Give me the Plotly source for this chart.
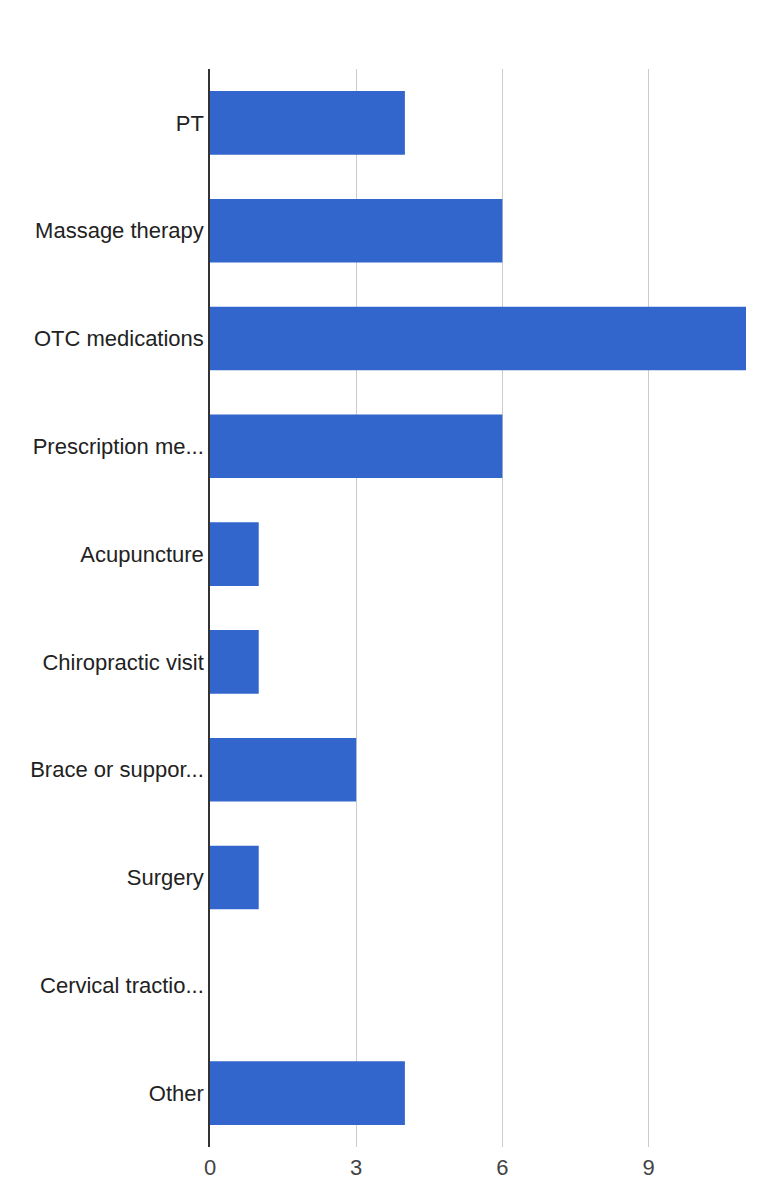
import plotly.graph_objects as go

categories = ["PT", "Massage therapy", "OTC medications", "Prescription me...",
              "Acupuncture", "Chiropractic visit", "Brace or suppor...",
              "Surgery", "Cervical tractio...", "Other"]
values = [4, 6, 11, 6, 1, 1, 3, 1, 0, 4]
x_ticks = [0, 3, 6, 9]

fig = go.Figure(go.Bar(
    x=values, y=categories, orientation="h",
    marker=dict(color="#3366cc", line=dict(width=0)),
))

fig.update_layout(
    width=775, height=1174,
    margin=dict(l=202, r=37, t=61, b=35, autoexpand=False),
    paper_bgcolor="white", plot_bgcolor="white",
    bargap=0.41,
    showlegend=False,
    font=dict(family="Arial, Liberation Sans, sans-serif", size=22, color="#222222"),
)
fig.update_xaxes(
    range=[0, 11], tickvals=x_ticks, showgrid=True, gridcolor="#cccccc", gridwidth=1,
    zeroline=False, showline=False, ticks="outside", ticklen=1, tickcolor="rgba(0,0,0,0)",
    tickfont=dict(size=22, color="#444444"), automargin=False,
)
fig.update_yaxes(
    categoryorder="array", categoryarray=categories, autorange="reversed",
    showline=True, linecolor="#333333", linewidth=1.5, showgrid=False,
    ticks="", automargin=False,
    tickfont=dict(size=22, color="#222222"),
)

fig.write_html("out.html")
